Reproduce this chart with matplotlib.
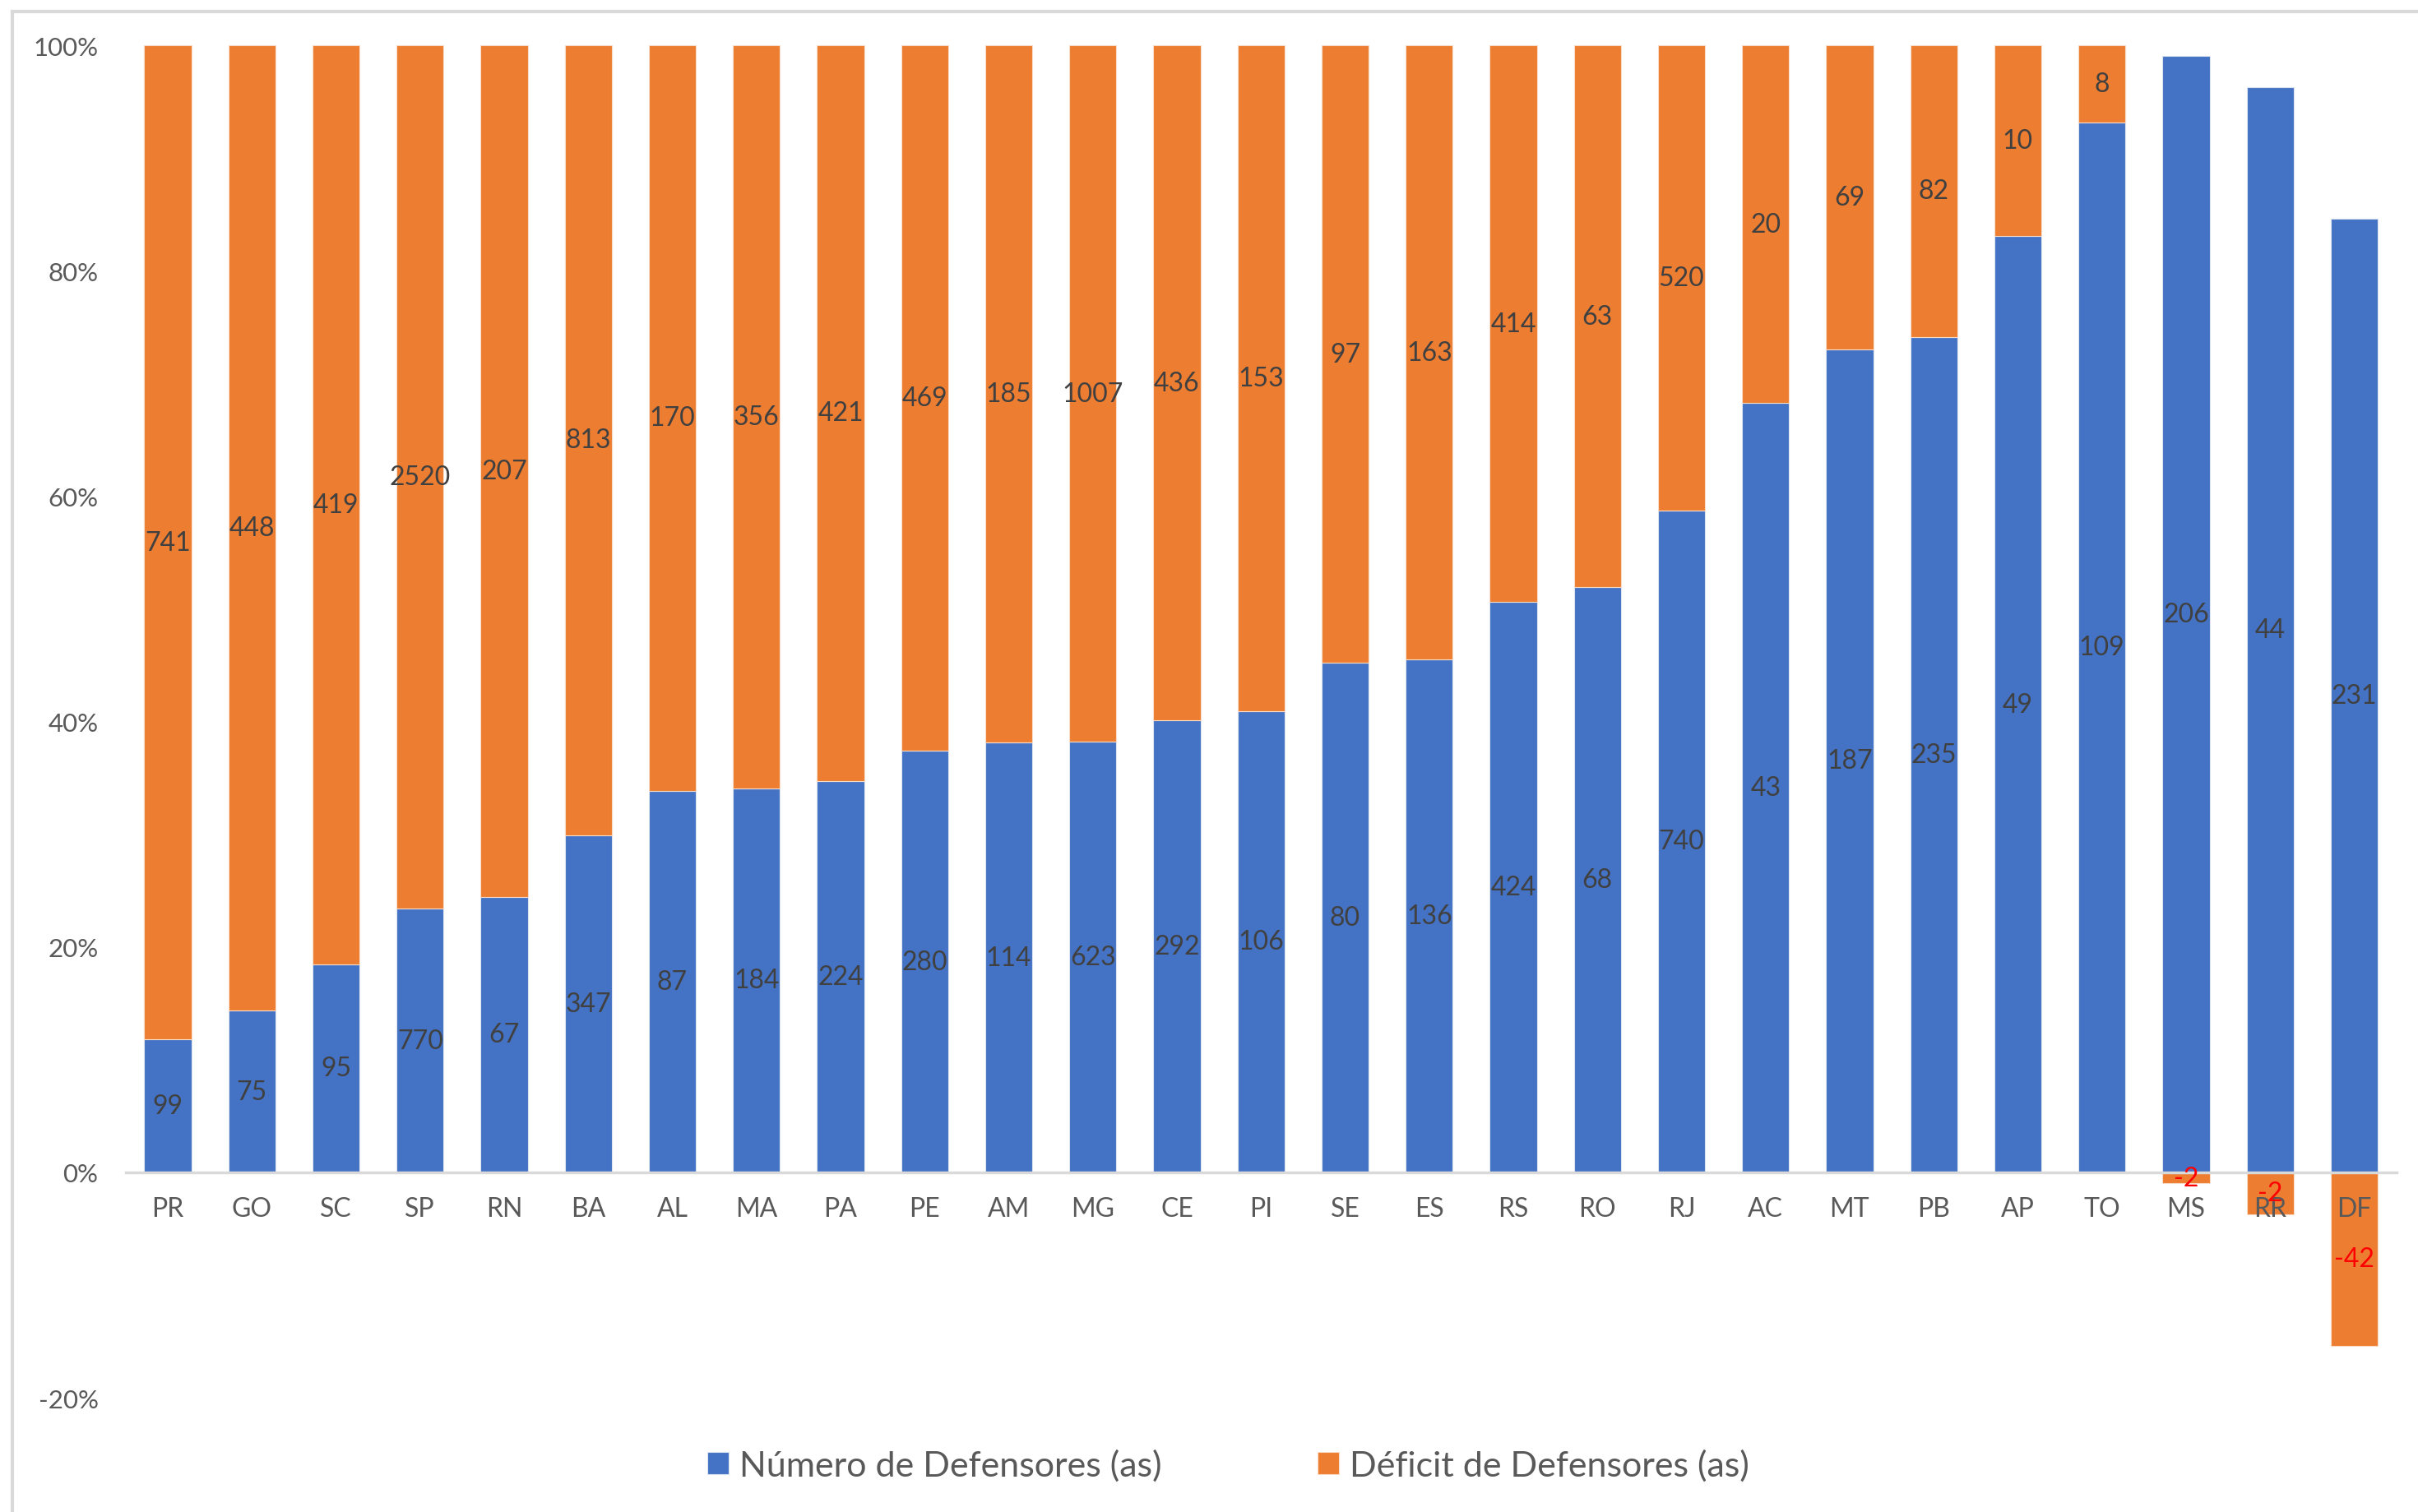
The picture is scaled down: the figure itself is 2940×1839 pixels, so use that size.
import numpy as np
import matplotlib.pyplot as plt
from matplotlib.lines import Line2D
from matplotlib.ticker import FuncFormatter

plt.rcParams['font.family'] = ['Lato', 'DejaVu Sans']
plt.rcParams['axes.unicode_minus'] = False

# data
states = ['PR', 'GO', 'SC', 'SP', 'RN', 'BA', 'AL', 'MA', 'PA', 'PE', 'AM', 'MG', 'CE', 'PI',
          'SE', 'ES', 'RS', 'RO', 'RJ', 'AC', 'MT', 'PB', 'AP', 'TO', 'MS', 'RR', 'DF']
numero = [99, 75, 95, 770, 67, 347, 87, 184, 224, 280, 114, 623, 292, 106,
          80, 136, 424, 68, 740, 43, 187, 235, 49, 109, 206, 44, 231]
# RR deficit (label shows -2 after rounding)
deficit = [741, 448, 419, 2520, 207, 813, 170, 356, 421, 469, 185, 1007, 436, 153,
           97, 163, 414, 63, 520, 20, 69, 82, 10, 8, -2, -1.7, -42]
legend_labels = ['Número de Defensores (as)', 'Déficit de Defensores (as)']

blue = '#4472C4'
orange = '#ED7D31'
txt = '#404040'
tick_col = '#595959'
grid_col = '#D9D9D9'

n = np.array(numero, dtype=float)
d = np.array(deficit, dtype=float)
tot = np.abs(n) + np.abs(d)   # 100% stacked, excel style
pn = n / tot
pd_ = d / tot
# negatives stack downward from 0, positives on top of blue
bottom_d = np.where(pd_ >= 0, pn, 0)

x = np.arange(len(states))

fig = plt.figure(figsize=(29.4, 18.4), dpi=100)
ax = fig.add_axes([0.052, 0.0755, 0.939, 0.894])
ax.set_axisbelow(False)

b1 = ax.bar(x, pn, width=0.56, color=blue, edgecolor='#dce4f2', linewidth=0.8,
            label=legend_labels[0], zorder=2)
b2 = ax.bar(x, pd_, width=0.56, bottom=bottom_d, color=orange, edgecolor='#f9dcc8',
            linewidth=0.8, label=legend_labels[1], zorder=2)

# data labels
for rect, v in zip(b1, numero):
    ax.text(rect.get_x() + rect.get_width() / 2, rect.get_y() + rect.get_height() / 2, '%.0f' % v,
            ha='center', va='center', fontsize=23, color=txt, zorder=4)
for rect, v in zip(b2, deficit):
    ax.text(rect.get_x() + rect.get_width() / 2, rect.get_y() + rect.get_height() / 2, '%.0f' % v,
            ha='center', va='center', fontsize=23, color='red' if v < 0 else txt, zorder=4)

ax.set_xlim(-0.5, len(states) - 0.5)
ax.set_ylim(-0.2, 1.0)
ax.set_yticks([-0.2, 0, 0.2, 0.4, 0.6, 0.8, 1.0])
ax.yaxis.set_major_formatter(FuncFormatter(lambda v, p: '%d%%' % round(v * 100)))
ax.set_xticks(x)
ax.set_xticklabels(states)

for s in ['top', 'right', 'left']:
    ax.spines[s].set_visible(False)
ax.spines['bottom'].set_position(('data', 0))
ax.spines['bottom'].set_color(grid_col)
ax.spines['bottom'].set_linewidth(2.5)
ax.tick_params(axis='x', length=0, pad=21, labelsize=23, labelcolor=tick_col)
ax.tick_params(axis='y', length=0, pad=24, labelsize=22.5, labelcolor=tick_col)

leg = fig.legend(loc='center', bbox_to_anchor=(0.508, 0.031), ncol=2, frameon=False,
                 fontsize=31, labelcolor=tick_col, handlelength=0.6, handleheight=0.6,
                 handletextpad=0.3, columnspacing=4.4)

# outer chart border (top and left visible)
fig.add_artist(Line2D([15 / 2940, 1], [1 - 15 / 1840, 1 - 15 / 1840], color=grid_col, lw=3))
fig.add_artist(Line2D([15 / 2940, 15 / 2940], [0, 1 - 15 / 1840], color=grid_col, lw=3))

fig.savefig('out.png', dpi=100, facecolor='white')
